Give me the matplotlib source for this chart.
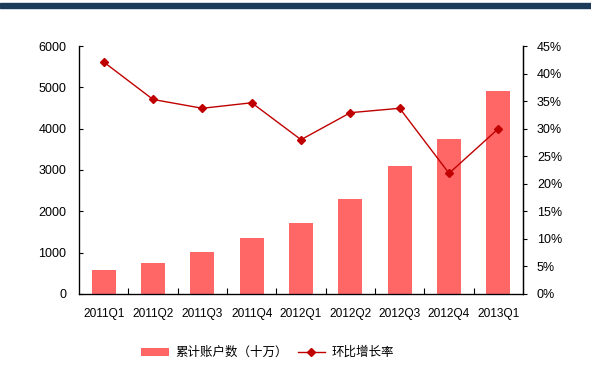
import matplotlib.pyplot as plt
from matplotlib.patches import Rectangle
from matplotlib.ticker import FuncFormatter, FixedLocator

plt.rcParams['font.family'] = ['Liberation Sans', 'Noto Sans CJK SC', 'DejaVu Sans']

# ===== 数据 =====
quarters = ["2011Q1", "2011Q2", "2011Q3", "2011Q4", "2012Q1",
            "2012Q2", "2012Q3", "2012Q4", "2013Q1"]
accounts = [570, 760, 1025, 1357, 1728, 2302, 3092, 3739, 4909]
growth = [42.1, 35.3, 33.7, 34.7, 28.0, 32.9, 33.7, 21.9, 30.0]

bar_label = "累计账户数（十万）"
line_label = "环比增长率"

fig = plt.figure(figsize=(5.91, 3.85), dpi=100)

# 顶部深蓝色横条
fig.patches.append(Rectangle((0, 1 - 8 / 385), 1, 5 / 385, transform=fig.transFigure,
                             color="#1c3a5a", zorder=0))

ax = fig.add_axes([0.1337, 0.2364, 0.7513, 0.6441])
x = list(range(len(quarters)))
bars = ax.bar(x, accounts, width=0.49, color="#ff6666", label=bar_label, zorder=2)
ax.set_xlim(-0.5, len(quarters) - 0.5)
ax.set_ylim(0, 6000)
ax.set_yticks(range(0, 6001, 1000))
ax.set_xticks(x)
ax.set_xticklabels(quarters, fontsize=8.6)
ax.xaxis.set_minor_locator(FixedLocator([i + 0.5 for i in x[:-1]]))
ax.tick_params(axis="x", which="major", length=0, pad=10)
ax.tick_params(axis="x", which="minor", direction="in", length=4, width=0.8)
ax.tick_params(axis="y", direction="in", length=3, labelsize=9, pad=9)
ax.spines["top"].set_visible(False)
for side in ["left", "bottom", "right"]:
    ax.spines[side].set_linewidth(0.9)

ax2 = ax.twinx()
line, = ax2.plot(x, growth, color="#c00000", marker="D", markersize=4,
                 linewidth=1.0, label=line_label, zorder=3)
ax2.set_ylim(0, 45)
ax2.set_yticks(range(0, 46, 5))
ax2.yaxis.set_major_formatter(FuncFormatter(lambda v, _: f"{int(v)}%"))
ax2.tick_params(axis="y", direction="out", length=3, labelsize=9, pad=7)
ax2.spines["top"].set_visible(False)
ax2.spines["right"].set_linewidth(0.9)

fig.legend([bars, line], [bar_label, line_label], loc="center",
           bbox_to_anchor=(0.453, 0.083), ncol=2, frameon=False, fontsize=9,
           handlelength=2.2, handletextpad=0.5, columnspacing=0.8)

fig.savefig("out.png", dpi=100)
